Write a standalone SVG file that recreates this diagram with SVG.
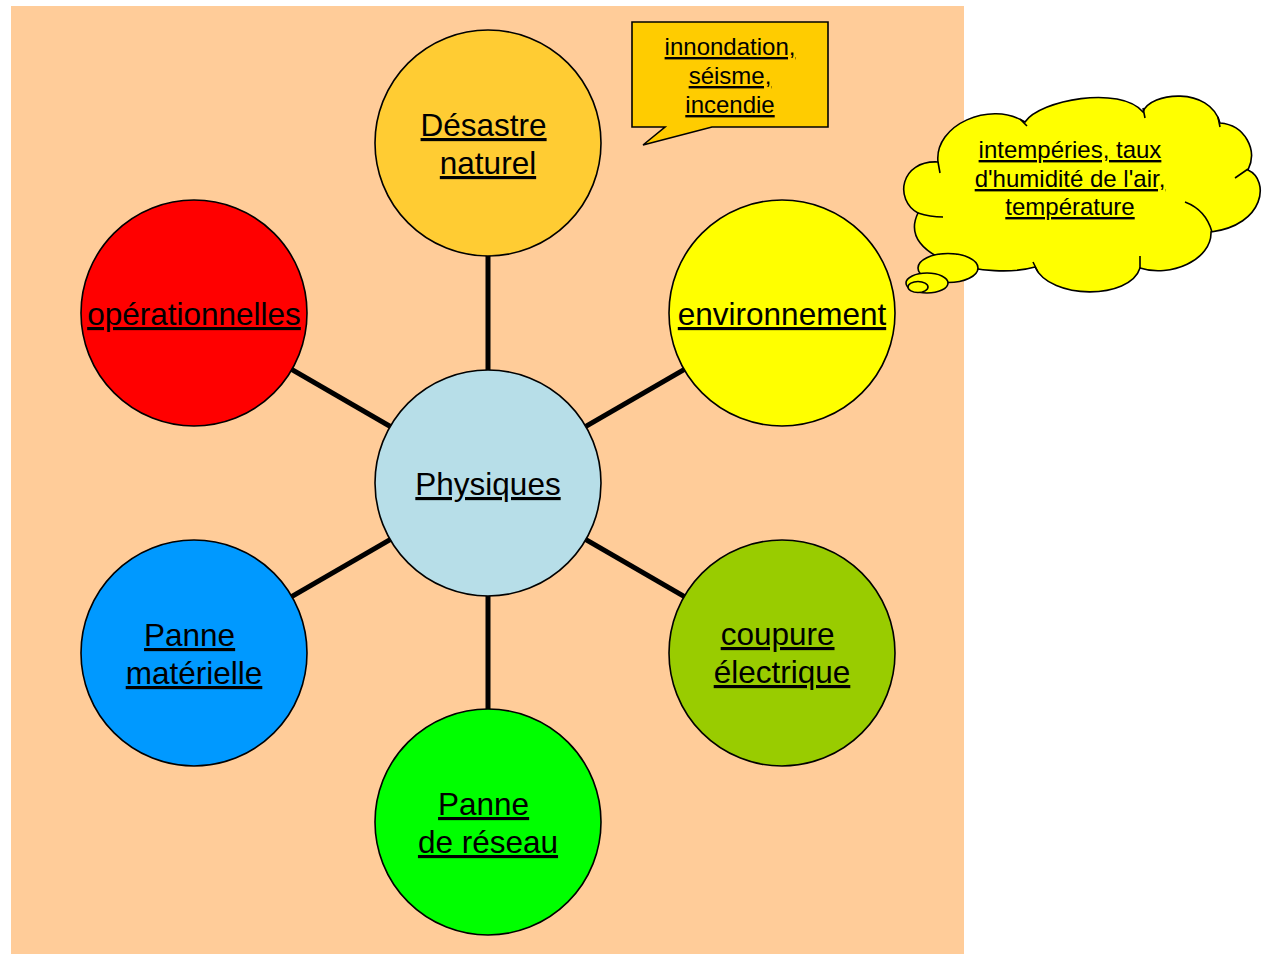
<svg xmlns="http://www.w3.org/2000/svg" width="1265" height="954" viewBox="0 0 1265 954">
<style>
.t{font-family:"Liberation Sans",Arial,sans-serif;fill:#000;text-anchor:middle;text-decoration:underline}
.big{font-size:31.5px}
.small{font-size:24px}
.node{stroke:#000;stroke-width:1.6}
.conn{stroke:#000;stroke-width:5;fill:none}
.inner{fill:none;stroke:#000;stroke-width:1.6}
</style>
<rect x="11" y="6" width="953" height="948" fill="#FFCC99"/>
<g id="connectors">
<line class="conn" x1="488" y1="483" x2="488" y2="143"/>
<line class="conn" x1="488" y1="483" x2="488" y2="822"/>
<line class="conn" x1="488" y1="483" x2="194" y2="313"/>
<line class="conn" x1="488" y1="483" x2="782" y2="313"/>
<line class="conn" x1="488" y1="483" x2="194" y2="653"/>
<line class="conn" x1="488" y1="483" x2="782" y2="653"/>
</g>
<g id="physiques">
<circle class="node" cx="488" cy="483" r="113" fill="#B7DEE8"/>
<text class="t big" x="488" y="495">Physiques</text>
</g>
<g id="desastre">
<circle class="node" cx="488" cy="143" r="113" fill="#FFCC33"/>
<text class="t big" x="483.6" y="136">Désastre</text>
<text class="t big" x="488" y="174">naturel</text>
</g>
<g id="operationnelles">
<circle class="node" cx="194" cy="313" r="113" fill="#FF0000"/>
<text class="t big" x="194" y="325">opérationnelles</text>
</g>
<g id="environnement">
<circle class="node" cx="782" cy="313" r="113" fill="#FFFF00"/>
<text class="t big" x="782" y="325">environnement</text>
</g>
<g id="panne-materielle">
<circle class="node" cx="194" cy="653" r="113" fill="#0099FF"/>
<text class="t big" x="189.6" y="646">Panne</text>
<text class="t big" x="194" y="684">matérielle</text>
</g>
<g id="coupure">
<circle class="node" cx="782" cy="653" r="113" fill="#99CC00"/>
<text class="t big" x="777.6" y="645">coupure</text>
<text class="t big" x="782" y="683">électrique</text>
</g>
<g id="panne-reseau">
<circle class="node" cx="488" cy="822" r="113" fill="#00FF00"/>
<text class="t big" x="483.6" y="815">Panne</text>
<text class="t big" x="488" y="853">de réseau</text>
</g>
<g id="callout">
<path class="node" d="M632,22 H828 V127 H712 L643,145 L665,127 H632 Z" fill="#FFCC00"/>
<text class="t small" x="730" y="55">innondation,</text>
<text class="t small" x="730" y="84">séisme,</text>
<text class="t small" x="730" y="113">incendie</text>
</g>
<g id="cloud">
<path class="node" fill="#FFFF00" d="M938,162 C934,125 990,100 1025,122 C1040,100 1120,85 1143,112 C1150,92 1210,86 1220,123 C1245,125 1258,150 1248,170 C1270,180 1265,225 1211,232 C1212,260 1170,278 1140,268 C1130,300 1050,300 1035,267 C990,280 895,260 918,213 C894,200 900,160 938,162 Z"/>
<path class="inner" d="M938,162 L940,173 M1020,119 L1027,126 M1143,108 L1145,118 M1218,117 L1220,127 M1248,169 L1235,178 M1212,232 Q1206,210 1185,202 M1140,256 L1140,268 M1033,262 L1038,272 M918,213 Q930,217 943,217"/>
<ellipse class="node" cx="948" cy="268" rx="30" ry="14.5" fill="#FFFF00"/>
<ellipse class="node" cx="927" cy="283" rx="21" ry="10" fill="#FFFF00"/>
<ellipse class="node" cx="918" cy="287" rx="10" ry="5.5" fill="#FFFF00"/>
<text class="t small" x="1070" y="158">intempéries, taux</text>
<text class="t small" x="1070" y="187">d'humidité de l'air,</text>
<text class="t small" x="1070" y="215">température</text>
</g>
</svg>
